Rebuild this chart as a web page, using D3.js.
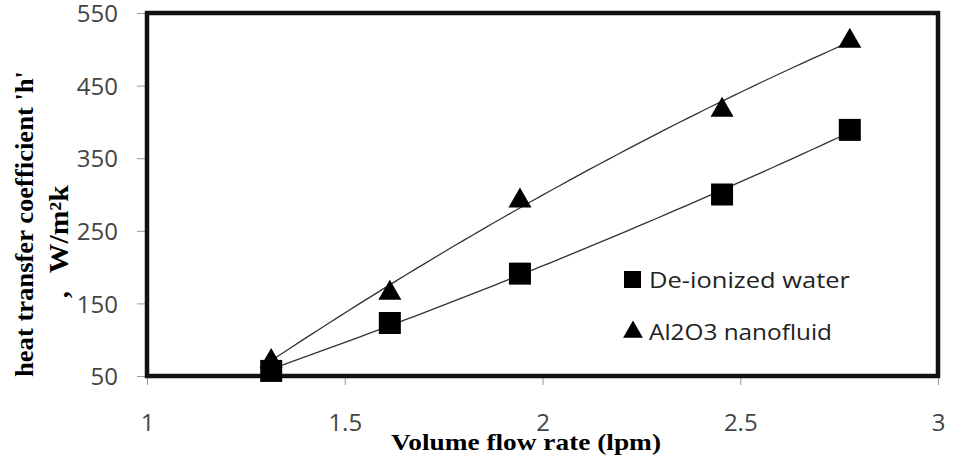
<!DOCTYPE html>
<html>
<head>
<meta charset="utf-8">
<script src="https://cdn.jsdelivr.net/npm/d3@7"></script>
<style>
html,body{margin:0;padding:0;background:#fff;}
svg{display:block;}
</style>
</head>
<body>
<svg id="chart" width="958" height="456"></svg>
<script>
// ---- data ----
const flowRate = [1.314, 1.614, 1.943, 2.454, 2.777];
const waterH = [57, 123, 191, 300, 389];
const nanoH = [73, 167, 294, 419, 514];
const seriesNames = ["De-ionized water", "Al2O3 nanofluid"];
const xTicks = [1, 1.5, 2, 2.5, 3];
const yTicks = [50, 150, 250, 350, 450, 550];
const xTitle = "Volume flow rate (lpm)";
const yTitle1 = "heat transfer coefficient 'h'";
const yTitle2a = ",";
const yTitle2b = "W/m²k";

(function () {
const svg = d3.select("#chart");
const pL = 147, pR = 938, pT = 13, pB = 376;
const x = d3.scaleLinear().domain([1, 3]).range([pL, pR]);
const y = d3.scaleLinear().domain([50, 550]).range([pB, pT]);

// axes (ticks + labels)
const xAxis = d3.axisBottom(x).tickValues(xTicks).tickSize(9).tickFormat(d3.format("~g"));
const gx = svg.append("g").attr("transform", `translate(0,${pB})`).call(xAxis);
gx.select(".domain").remove();
gx.selectAll(".tick line").attr("stroke", "#999").attr("stroke-width", 1);
gx.selectAll(".tick text").attr("fill", "#444").attr("font-family", "'Open Sans', sans-serif")
  .attr("font-size", 24).attr("y", 55).attr("dy", 0);

const yAxis = d3.axisLeft(y).tickValues(yTicks).tickSize(10);
const gy = svg.append("g").attr("transform", `translate(${pL},0)`).call(yAxis);
gy.select(".domain").remove();
gy.selectAll(".tick line").attr("stroke", "#999").attr("stroke-width", 1);
gy.selectAll(".tick text").attr("fill", "#444").attr("font-family", "'Open Sans', sans-serif")
  .attr("font-size", 24).attr("x", -29).attr("dy", "0.36em");

// frame
svg.append("rect").attr("x", pL).attr("y", pT).attr("width", pR - pL).attr("height", pB - pT)
  .attr("fill", "none").attr("stroke", "#111").attr("stroke-width", 4.5);

// polynomial (order 2) trendlines, least squares fit of each series
function polyfit2(xs, ys) {
  const S = [0, 0, 0, 0, 0], T = [0, 0, 0];
  xs.forEach((xv, i) => {
    for (let k = 0; k < 5; k++) S[k] += Math.pow(xv, k);
    for (let k = 0; k < 3; k++) T[k] += ys[i] * Math.pow(xv, k);
  });
  const A = [[S[0], S[1], S[2], T[0]], [S[1], S[2], S[3], T[1]], [S[2], S[3], S[4], T[2]]];
  for (let c = 0; c < 3; c++) {
    for (let r = c + 1; r < 3; r++) {
      const f = A[r][c] / A[c][c];
      for (let k = c; k < 4; k++) A[r][k] -= f * A[c][k];
    }
  }
  const b = [0, 0, 0];
  for (let r = 2; r >= 0; r--) {
    let s = A[r][3];
    for (let k = r + 1; k < 3; k++) s -= A[r][k] * b[k];
    b[r] = s / A[r][r];
  }
  return xv => b[0] + b[1] * xv + b[2] * xv * xv;
}
const line = d3.line().x(d => x(d[0])).y(d => y(d[1]));
const xs = d3.range(0, 61).map(i => flowRate[0] + (flowRate[flowRate.length - 1] - flowRate[0]) * i / 60);
[waterH, nanoH].forEach(vals => {
  const f = polyfit2(flowRate, vals);
  svg.append("path").datum(xs.map(v => [v, f(v)]))
    .attr("d", line).attr("fill", "none").attr("stroke", "#333").attr("stroke-width", 1.3);
});

// markers
const sq = 22, tri = d3.symbol().type(d3.symbolTriangle).size(230);
svg.append("g").selectAll("rect").data(flowRate.map((f, i) => [f, waterH[i]])).join("rect")
  .attr("x", d => x(d[0]) - sq / 2).attr("y", d => y(d[1]) - sq / 2)
  .attr("width", sq).attr("height", sq).attr("fill", "#000");
svg.append("g").selectAll("path").data(flowRate.map((f, i) => [f, nanoH[i]])).join("path")
  .attr("d", tri).attr("transform", d => `translate(${x(d[0])},${y(d[1]) + 2})`).attr("fill", "#000");

// legend
const lg = svg.append("g");
lg.append("rect").attr("x", 624).attr("y", 271).attr("width", 17).attr("height", 17).attr("fill", "#000");
lg.append("path").attr("d", d3.symbol().type(d3.symbolTriangle).size(170)).attr("transform", "translate(633,332)").attr("fill", "#000");
lg.append("text").attr("x", 649).attr("y", 288).text(seriesNames[0])
  .attr("font-family", "'Open Sans', sans-serif").attr("font-size", 22).attr("fill", "#222")
  .attr("textLength", 201).attr("lengthAdjust", "spacingAndGlyphs");
lg.append("text").attr("x", 649).attr("y", 340).text(seriesNames[1])
  .attr("font-family", "'Open Sans', sans-serif").attr("font-size", 22).attr("fill", "#222")
  .attr("textLength", 183).attr("lengthAdjust", "spacingAndGlyphs");

// axis titles
svg.append("text").attr("x", 526).attr("y", 450).attr("text-anchor", "middle").text(xTitle)
  .attr("font-family", "'Liberation Serif', 'Times New Roman', serif").attr("font-weight", "bold")
  .attr("font-size", 23).attr("fill", "#000").attr("textLength", 270).attr("lengthAdjust", "spacingAndGlyphs");

svg.append("text").attr("transform", "translate(33,224) rotate(-90)").attr("text-anchor", "middle").text(yTitle1)
  .attr("font-family", "'Liberation Serif', 'Times New Roman', serif").attr("font-weight", "bold")
  .attr("font-size", 26).attr("fill", "#000").attr("textLength", 306).attr("lengthAdjust", "spacingAndGlyphs");
const t2 = svg.append("text").attr("transform", "translate(68,298) rotate(-90)").attr("text-anchor", "start")
  .attr("font-family", "'Liberation Serif', 'Times New Roman', serif").attr("font-weight", "bold")
  .attr("font-size", 27).attr("fill", "#000");
t2.append("tspan").text(yTitle2a);
t2.append("tspan").attr("dx", 18).attr("textLength", 88).attr("lengthAdjust", "spacingAndGlyphs").text(yTitle2b);
})();
</script>
</body>
</html>
